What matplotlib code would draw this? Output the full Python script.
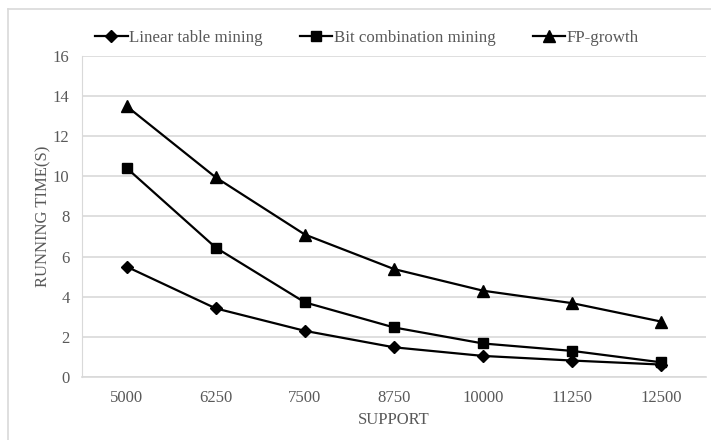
import matplotlib.pyplot as plt
from matplotlib.lines import Line2D

# values
support = ["5000", "6250", "7500", "8750", "10000", "11250", "12500"]
linear_table = [5.5, 3.42, 2.3, 1.48, 1.05, 0.82, 0.62]
bit_combination = [10.42, 6.45, 3.72, 2.47, 1.67, 1.3, 0.73]
fp_growth = [13.5, 9.95, 7.1, 5.38, 4.3, 3.68, 2.76]

plt.rcParams["font.family"] = ["Liberation Serif", "DejaVu Serif"]
text_color = "#595959"
grid_color = "#d9d9d9"

fig = plt.figure(figsize=(7.11, 4.40), dpi=100)
ax = fig.add_axes([82 / 711, 1 - 377 / 440, 624 / 711, 321 / 440])

x = range(len(support))
ax.plot(x, linear_table, color="black", lw=1.6, marker="D", ms=6, label="Linear table mining")
ax.plot(x, bit_combination, color="black", lw=1.6, marker="s", ms=7, label="Bit combination mining")
ax.plot(x, fp_growth, color="black", lw=1.6, marker="^", ms=8, label="FP-growth")

ax.set_xlim(-0.5, len(support) - 0.5)
ax.set_ylim(0, 16)
ax.set_yticks(range(0, 17, 2))
ax.set_xticks(list(x))
ax.set_xticklabels(support)
ax.grid(axis="y", color=grid_color, lw=1.2)
ax.set_axisbelow(True)

for side in ["top", "right"]:
    ax.spines[side].set_visible(False)
ax.spines["left"].set_color(grid_color)
ax.spines["bottom"].set_color(grid_color)
ax.spines["bottom"].set_linewidth(1.2)
ax.tick_params(length=0, labelsize=12, colors=text_color, pad=9)

ax.set_xlabel("SUPPORT", fontsize=12, color=text_color, labelpad=5)
ax.set_ylabel("RUNNING TIME(S)", fontsize=12, color=text_color, labelpad=1)

ax.legend(loc="center", bbox_to_anchor=(0.457, 1.055), ncol=3, frameon=False,
          fontsize=12.2, labelcolor=text_color, handlelength=1.9, handletextpad=0.1,
          columnspacing=2.2)

# chart area border (top and left edges visible in the reference)
fig.add_artist(Line2D([8 / 711, 1], [1 - 9 / 440, 1 - 9 / 440], color=grid_color, lw=1.2))
fig.add_artist(Line2D([8 / 711, 8 / 711], [0, 1 - 9 / 440], color=grid_color, lw=1.2))

fig.savefig("out.png", dpi=100)
